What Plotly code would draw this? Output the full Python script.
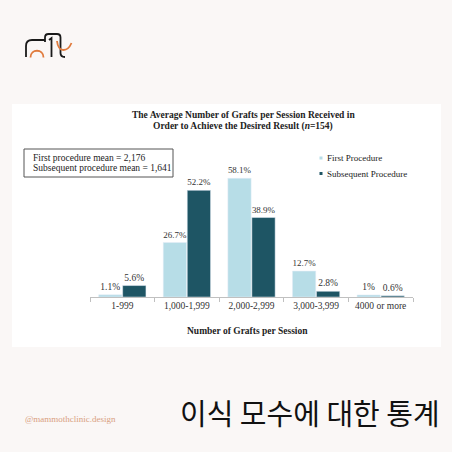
import plotly.graph_objects as go

categories = ["1-999", "1,000-1,999", "2,000-2,999", "3,000-3,999", "4000 or more"]
first_vals = [1.1, 26.7, 58.1, 12.7, 1.0]
first_labels = ["1.1%", "26.7%", "58.1%", "12.7%", "1%"]
subseq_vals = [5.6, 52.2, 38.9, 2.8, 0.6]
subseq_labels = ["5.6%", "52.2%", "38.9%", "2.8%", "0.6%"]
series_names = ["First Procedure", "Subsequent Procedure"]
mean_lines = ["First procedure mean = 2,176", "Subsequent procedure mean = 1,641"]

W, H = 452, 452
L, R, T, B = 90, 39, 154, 155
PW, PH = W - L - R, H - T - B

def px(x):
    return (x - L) / PW

def py(y):
    return (H - B - y) / PH

def path(cmds):
    out = []
    for c in cmds:
        if isinstance(c, str):
            out.append(c)
        else:
            out.append(f"{px(c[0]):.5f},{py(c[1]):.5f}")
    return " ".join(out)

LIGHT = "#b7dde7"
DARK = "#1e5564"
SERIF = "Liberation Serif"
BG = "#faf7f6"

fig = go.Figure()
fig.add_bar(x=categories, y=first_vals, name=series_names[0], marker_color=LIGHT,
            text=first_labels, textposition="outside", cliponaxis=False,
            textfont=dict(family=SERIF, size=9.5, color="#333"))
fig.add_bar(x=categories, y=subseq_vals, name=series_names[1], marker_color=DARK,
            text=subseq_labels, textposition="outside", cliponaxis=False,
            textfont=dict(family=SERIF, size=9.5, color="#333"))

shapes = []
# white panel
shapes.append(dict(type="rect", xref="paper", yref="paper", x0=px(12), x1=px(441), y0=py(347), y1=py(104),
                   fillcolor="white", line=dict(width=0), layer="below"))
# mean box
shapes.append(dict(type="rect", xref="paper", yref="paper", x0=px(24), x1=px(173), y0=py(177), y1=py(149),
                   fillcolor="rgba(0,0,0,0)", line=dict(width=1, color="#555")))
# legend squares
for i, col in enumerate([LIGHT, DARK]):
    yc = 158 + i * 15.5
    shapes.append(dict(type="rect", xref="paper", yref="paper", x0=px(319.5), x1=px(322.5),
                       y0=py(yc + 1.5), y1=py(yc - 1.5), fillcolor=col, line=dict(width=0)))

# logo
blk = dict(color="#1a1a1a", width=1.8)
org = dict(color="#e07a3c", width=1.8)
logo_paths = [
    (path(["M", (26, 57), "L", (26, 46), "Q", (26, 40), (32, 40), "L", (45, 40)]), blk),
    (path(["M", (45, 42), "L", (45, 37.5), "Q", (45, 34), (48.5, 34), "L", (57, 34), "Q", (60.5, 34), (60.5, 37.5),
           "L", (60.5, 53), "Q", (60.5, 57), (65, 57)]), blk),
    (path(["M", (49, 40), "L", (51.5, 38), "L", (51.5, 57)]), blk),
    (path(["M", (30.5, 57.5), "C", (30.5, 48.5), (43.5, 48.5), (43.5, 57.5)]), org),
    (path(["M", (57, 41), "Q", (58, 50), (63.5, 50), "Q", (68.5, 50), (71.5, 43)]), org),
]
for p, ln in logo_paths:
    shapes.append(dict(type="path", xref="paper", yref="paper", path=p, line=ln))

def ann(text, x, y, size, xanchor="center", color="#222", family=SERIF):
    return dict(text=text, xref="paper", yref="paper", x=px(x), y=py(y), xanchor=xanchor, yanchor="middle",
                showarrow=False, font=dict(family=family, size=size, color=color))

annotations = [
    ann("<b>The Average Number of Grafts per Session Received in</b>", 243, 115, 9.5),
    ann("<b>Order to Achieve the Desired Result (<i>n</i>=154)</b>", 243, 126, 9.5),
    ann(mean_lines[0], 31, 158, 9.5, "left"),
    ann(mean_lines[1], 31, 167.5, 9.5, "left"),
    ann(series_names[0], 325, 158, 9, "left"),
    ann(series_names[1], 325, 173.5, 9, "left"),
    ann("<b>Number of Grafts per Session</b>", 247, 331, 9.5),
    ann("이식 모수에 대한 통계", 442, 412, 29, "right", "#111", "Noto Sans CJK KR"),
    ann("@mammothclinic.design", 23, 419, 9, "left", "#d9a07f", SERIF),
]

fig.update_layout(
    width=W, height=H,
    margin=dict(l=L, r=R, t=T, b=B, pad=0),
    paper_bgcolor=BG, plot_bgcolor="white",
    barmode="group", bargap=0.257, bargroupgap=0.03,
    showlegend=False,
    shapes=shapes, annotations=annotations,
    xaxis=dict(showline=True, linecolor="#c0c0c0", linewidth=1, ticks="outside", tickson="boundaries",
               ticklen=4, tickcolor="#c0c0c0", showgrid=False, fixedrange=True,
               tickfont=dict(family=SERIF, size=9.5, color="#333")),
    yaxis=dict(visible=False, range=[0, 70], fixedrange=True),
)

fig.write_html("out.html", config={"displayModeBar": False},
               post_script="document.body.style.margin='0';document.body.style.background='%s';" % BG)
